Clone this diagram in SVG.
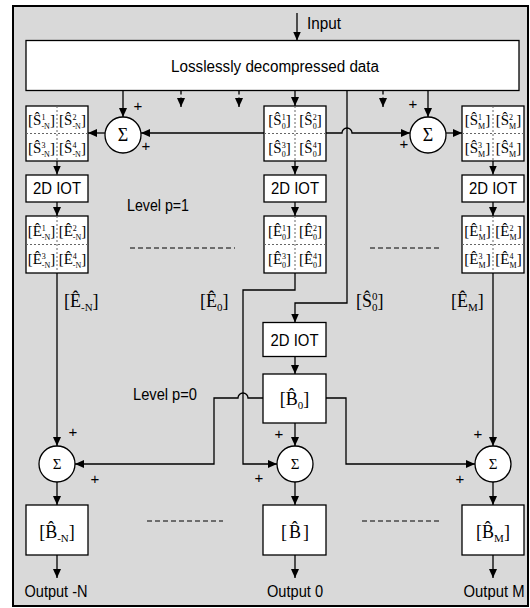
<svg xmlns="http://www.w3.org/2000/svg" width="530" height="608" viewBox="0 0 530 608">
<style>
.frame{fill:#d9d9d9;stroke:#000;stroke-width:2}
.box{fill:#fff;stroke:#000;stroke-width:1.3}
.dv{fill:none;stroke:#666;stroke-width:1;stroke-dasharray:2 2}
.ln{fill:none;stroke:#000;stroke-width:1.3}
.da{stroke-dasharray:4 3}
.lv{fill:none;stroke:#000;stroke-width:1;stroke-dasharray:5 3}
.sans{font-family:"Liberation Sans",Arial,sans-serif;font-size:16px;fill:#000}
.c{text-anchor:middle}
.m{font-family:"Liberation Serif","Times New Roman",serif;font-size:15px;text-anchor:middle;fill:#000}
.s{font-size:8px}
.L{font-family:"Liberation Serif","Times New Roman",serif;font-size:18px;fill:#000}
.ls{font-size:11px}
.sig{font-family:"Liberation Serif","Times New Roman",serif;text-anchor:middle;fill:#000}
.pl{font-family:"Liberation Sans",Arial,sans-serif;font-size:15px;text-anchor:middle;fill:#000}
.sc{fill:#fff;stroke:#000;stroke-width:1.3}
</style>
<defs>
<marker id="ah" markerWidth="9" markerHeight="8" refX="9" refY="4" orient="auto" markerUnits="userSpaceOnUse"><path d="M0,0 L9,4 L0,8 z" fill="#000"/></marker>
</defs>
<rect class="frame" x="13" y="6" width="515" height="600"/>

<g id="connectors">
<path class="ln" d="M297,13 V40.5" marker-end="url(#ah)"/>
<path class="ln" d="M123,90.5 V117" marker-end="url(#ah)"/>
<path class="ln da" d="M181,90.5 V107" marker-end="url(#ah)"/>
<path class="ln da" d="M239,90.5 V107" marker-end="url(#ah)"/>
<path class="ln da" d="M383,90.5 V107" marker-end="url(#ah)"/>
<path class="ln" d="M295,90.5 V106" marker-end="url(#ah)"/>
<path class="ln" d="M428,90.5 V117" marker-end="url(#ah)"/>
<path class="ln" d="M264,133 H141" marker-end="url(#ah)"/>
<path class="ln" d="M326,133 H342 A5,5 0 0 1 352,133 H410" marker-end="url(#ah)"/>
<path class="ln" d="M105,133 H88" marker-end="url(#ah)"/>
<path class="ln" d="M446,133 H462" marker-end="url(#ah)"/>
<path class="ln" d="M57,161 V174.5" marker-end="url(#ah)"/>
<path class="ln" d="M295,161 V174.5" marker-end="url(#ah)"/>
<path class="ln" d="M493,161 V174.5" marker-end="url(#ah)"/>
<path class="ln" d="M57,202 V216" marker-end="url(#ah)"/>
<path class="ln" d="M295,202 V216" marker-end="url(#ah)"/>
<path class="ln" d="M493,202 V216" marker-end="url(#ah)"/>
<path class="ln" d="M57,273 V446" marker-end="url(#ah)"/>
<path class="ln" d="M295,273 V290 H243 V464 H277" marker-end="url(#ah)"/>
<path class="ln" d="M347,90.5 V303 H295 V322.5" marker-end="url(#ah)"/>
<path class="ln" d="M295,356.5 V374" marker-end="url(#ah)"/>
<path class="ln" d="M295,423 V446" marker-end="url(#ah)"/>
<path class="ln" d="M263,398 H248 A5,5 0 0 0 238,398 H214 V464 H75" marker-end="url(#ah)"/>
<path class="ln" d="M326,398 H346 V464 H475" marker-end="url(#ah)"/>
<path class="ln" d="M493,273 V446" marker-end="url(#ah)"/>
<path class="ln" d="M57,482 V505" marker-end="url(#ah)"/>
<path class="ln" d="M295,482 V505" marker-end="url(#ah)"/>
<path class="ln" d="M493,482 V505" marker-end="url(#ah)"/>
<path class="ln" d="M57,555 V578" marker-end="url(#ah)"/>
<path class="ln" d="M295,555 V578" marker-end="url(#ah)"/>
<path class="ln" d="M493,555 V578" marker-end="url(#ah)"/>
</g>

<g id="input-label"><text class="sans" x="307" y="28.5" textLength="34" lengthAdjust="spacingAndGlyphs">Input</text></g>

<g id="decompressed">
<rect class="box" x="26" y="40.5" width="493" height="50"/>
<text class="sans c" x="275" y="72" textLength="208" lengthAdjust="spacingAndGlyphs">Losslessly decompressed data</text>
</g>

<g id="S-N">
<rect class="box" x="26" y="106" width="62" height="55"/>
<path class="dv" d="M57,106 V161 M26,133.5 H88"/>
<text class="m" x="41.5" y="124.5">[Ŝ<tspan class="s" dy="-5">1</tspan><tspan class="s" dx="-4" dy="9">-N</tspan><tspan dy="-4">]</tspan></text>
<text class="m" x="72.5" y="124.5">[Ŝ<tspan class="s" dy="-5">2</tspan><tspan class="s" dx="-4" dy="9">-N</tspan><tspan dy="-4">]</tspan></text>
<text class="m" x="41.5" y="152.5">[Ŝ<tspan class="s" dy="-5">3</tspan><tspan class="s" dx="-4" dy="9">-N</tspan><tspan dy="-4">]</tspan></text>
<text class="m" x="72.5" y="152.5">[Ŝ<tspan class="s" dy="-5">4</tspan><tspan class="s" dx="-4" dy="9">-N</tspan><tspan dy="-4">]</tspan></text>
</g>

<g id="S0">
<rect class="box" x="264" y="106" width="62" height="55"/>
<path class="dv" d="M295,106 V161 M264,133.5 H326"/>
<text class="m" x="279.5" y="124.5">[Ŝ<tspan class="s" dy="-5">1</tspan><tspan class="s" dx="-4" dy="9">0</tspan><tspan dy="-4">]</tspan></text>
<text class="m" x="310.5" y="124.5">[Ŝ<tspan class="s" dy="-5">2</tspan><tspan class="s" dx="-4" dy="9">0</tspan><tspan dy="-4">]</tspan></text>
<text class="m" x="279.5" y="152.5">[Ŝ<tspan class="s" dy="-5">3</tspan><tspan class="s" dx="-4" dy="9">0</tspan><tspan dy="-4">]</tspan></text>
<text class="m" x="310.5" y="152.5">[Ŝ<tspan class="s" dy="-5">4</tspan><tspan class="s" dx="-4" dy="9">0</tspan><tspan dy="-4">]</tspan></text>
</g>

<g id="SM">
<rect class="box" x="462" y="106" width="62" height="55"/>
<path class="dv" d="M493,106 V161 M462,133.5 H524"/>
<text class="m" x="477.5" y="124.5">[Ŝ<tspan class="s" dy="-5">1</tspan><tspan class="s" dx="-4" dy="9">M</tspan><tspan dy="-4">]</tspan></text>
<text class="m" x="508.5" y="124.5">[Ŝ<tspan class="s" dy="-5">2</tspan><tspan class="s" dx="-4" dy="9">M</tspan><tspan dy="-4">]</tspan></text>
<text class="m" x="477.5" y="152.5">[Ŝ<tspan class="s" dy="-5">3</tspan><tspan class="s" dx="-4" dy="9">M</tspan><tspan dy="-4">]</tspan></text>
<text class="m" x="508.5" y="152.5">[Ŝ<tspan class="s" dy="-5">4</tspan><tspan class="s" dx="-4" dy="9">M</tspan><tspan dy="-4">]</tspan></text>
</g>

<g id="sum-top-left">
<circle class="sc" cx="123" cy="135" r="18"/>
<text class="sig" x="123" y="141" font-size="18">Σ</text>
<text class="pl" x="138" y="111">+</text>
<text class="pl" x="146" y="151">+</text>
</g>
<g id="sum-top-right">
<circle class="sc" cx="428" cy="135" r="18"/>
<text class="sig" x="428" y="141" font-size="18">Σ</text>
<text class="pl" x="413" y="109">+</text>
<text class="pl" x="404" y="149">+</text>
</g>

<g id="IOT-N">
<rect class="box" x="26" y="175" width="62" height="27"/>
<text class="sans c" x="57" y="193.5" textLength="48" lengthAdjust="spacingAndGlyphs">2D IOT</text>
</g>
<g id="IOT-0">
<rect class="box" x="264" y="175" width="62" height="27"/>
<text class="sans c" x="295" y="193.5" textLength="48" lengthAdjust="spacingAndGlyphs">2D IOT</text>
</g>
<g id="IOT-M">
<rect class="box" x="462" y="175" width="62" height="27"/>
<text class="sans c" x="493" y="193.5" textLength="48" lengthAdjust="spacingAndGlyphs">2D IOT</text>
</g>

<g id="level1">
<text class="sans" x="127" y="211" textLength="62" lengthAdjust="spacingAndGlyphs">Level p=1</text>
<path class="lv" d="M130,248 H235 M370,248 H439"/>
</g>

<g id="E-N">
<rect class="box" x="26" y="216" width="62" height="57"/>
<path class="dv" d="M57,216 V273 M26,244.5 H88"/>
<text class="m" x="41.5" y="235.5">[Ê<tspan class="s" dy="-5">1</tspan><tspan class="s" dx="-4" dy="9">-N</tspan><tspan dy="-4">]</tspan></text>
<text class="m" x="72.5" y="235.5">[Ê<tspan class="s" dy="-5">2</tspan><tspan class="s" dx="-4" dy="9">-N</tspan><tspan dy="-4">]</tspan></text>
<text class="m" x="41.5" y="264">[Ê<tspan class="s" dy="-5">3</tspan><tspan class="s" dx="-4" dy="9">-N</tspan><tspan dy="-4">]</tspan></text>
<text class="m" x="72.5" y="264">[Ê<tspan class="s" dy="-5">4</tspan><tspan class="s" dx="-4" dy="9">-N</tspan><tspan dy="-4">]</tspan></text>
</g>
<g id="E0">
<rect class="box" x="264" y="216" width="62" height="57"/>
<path class="dv" d="M295,216 V273 M264,244.5 H326"/>
<text class="m" x="279.5" y="235.5">[Ê<tspan class="s" dy="-5">1</tspan><tspan class="s" dx="-4" dy="9">0</tspan><tspan dy="-4">]</tspan></text>
<text class="m" x="310.5" y="235.5">[Ê<tspan class="s" dy="-5">2</tspan><tspan class="s" dx="-4" dy="9">0</tspan><tspan dy="-4">]</tspan></text>
<text class="m" x="279.5" y="264">[Ê<tspan class="s" dy="-5">3</tspan><tspan class="s" dx="-4" dy="9">0</tspan><tspan dy="-4">]</tspan></text>
<text class="m" x="310.5" y="264">[Ê<tspan class="s" dy="-5">4</tspan><tspan class="s" dx="-4" dy="9">0</tspan><tspan dy="-4">]</tspan></text>
</g>
<g id="EM">
<rect class="box" x="462" y="216" width="62" height="57"/>
<path class="dv" d="M493,216 V273 M462,244.5 H524"/>
<text class="m" x="477.5" y="235.5">[Ê<tspan class="s" dy="-5">1</tspan><tspan class="s" dx="-4" dy="9">M</tspan><tspan dy="-4">]</tspan></text>
<text class="m" x="508.5" y="235.5">[Ê<tspan class="s" dy="-5">2</tspan><tspan class="s" dx="-4" dy="9">M</tspan><tspan dy="-4">]</tspan></text>
<text class="m" x="477.5" y="264">[Ê<tspan class="s" dy="-5">3</tspan><tspan class="s" dx="-4" dy="9">M</tspan><tspan dy="-4">]</tspan></text>
<text class="m" x="508.5" y="264">[Ê<tspan class="s" dy="-5">4</tspan><tspan class="s" dx="-4" dy="9">M</tspan><tspan dy="-4">]</tspan></text>
</g>

<g id="edge-labels">
<text class="L" x="64" y="307">[Ê<tspan class="ls" dy="4">-N</tspan><tspan dy="-4">]</tspan></text>
<text class="L" x="200" y="307">[Ê<tspan class="ls" dy="4">0</tspan><tspan dy="-4">]</tspan></text>
<text class="L" x="356" y="307">[Ŝ<tspan class="ls" dy="-7">0</tspan><tspan class="ls" dx="-5.5" dy="11">0</tspan><tspan dy="-4">]</tspan></text>
<text class="L" x="451" y="307">[Ê<tspan class="ls" dy="4">M</tspan><tspan dy="-4">]</tspan></text>
</g>

<g id="IOT-level0">
<rect class="box" x="263" y="322.5" width="63" height="34"/>
<text class="sans c" x="294.5" y="345.5" textLength="48" lengthAdjust="spacingAndGlyphs">2D IOT</text>
</g>

<g id="level0">
<text class="sans" x="133" y="399.5" textLength="64" lengthAdjust="spacingAndGlyphs">Level p=0</text>
<path class="lv" d="M147,521 H223 M362,521 H440"/>
</g>

<g id="B0">
<rect class="box" x="263" y="374" width="63" height="49"/>
<text class="L" x="294.5" y="405" font-size="20" text-anchor="middle">[B̂<tspan class="ls" font-size="12" dy="4">0</tspan><tspan dy="-4">]</tspan></text>
</g>

<g id="sum-bottom-left">
<circle class="sc" cx="57" cy="464" r="18"/>
<text class="sig" x="57" y="469" font-size="15">Σ</text>
<text class="pl" x="73" y="437">+</text>
<text class="pl" x="95" y="484">+</text>
</g>
<g id="sum-bottom-mid">
<circle class="sc" cx="295" cy="464" r="18"/>
<text class="sig" x="295" y="469" font-size="15">Σ</text>
<text class="pl" x="279" y="439">+</text>
<text class="pl" x="259" y="483">+</text>
</g>
<g id="sum-bottom-right">
<circle class="sc" cx="493" cy="464" r="18"/>
<text class="sig" x="493" y="469" font-size="15">Σ</text>
<text class="pl" x="478" y="439">+</text>
<text class="pl" x="460" y="484">+</text>
</g>

<g id="B-N">
<rect class="box" x="26" y="505" width="62" height="50"/>
<text class="L" x="57" y="538" text-anchor="middle">[B̂<tspan class="ls" dy="4">-N</tspan><tspan dy="-4">]</tspan></text>
</g>
<g id="B">
<rect class="box" x="263" y="505" width="63" height="50"/>
<text class="L" x="295" y="538" font-size="19" text-anchor="middle">[<tspan dx="2">B̂</tspan><tspan dx="2">]</tspan></text>
</g>
<g id="BM">
<rect class="box" x="462" y="505" width="62" height="50"/>
<text class="L" x="493" y="538" text-anchor="middle">[B̂<tspan class="ls" dy="4">M</tspan><tspan dy="-4">]</tspan></text>
</g>

<g id="outputs">
<text class="sans c" x="56" y="597" textLength="63" lengthAdjust="spacingAndGlyphs">Output -N</text>
<text class="sans c" x="295" y="597" textLength="56" lengthAdjust="spacingAndGlyphs">Output 0</text>
<text class="sans c" x="494" y="597" textLength="61" lengthAdjust="spacingAndGlyphs">Output M</text>
</g>
</svg>
